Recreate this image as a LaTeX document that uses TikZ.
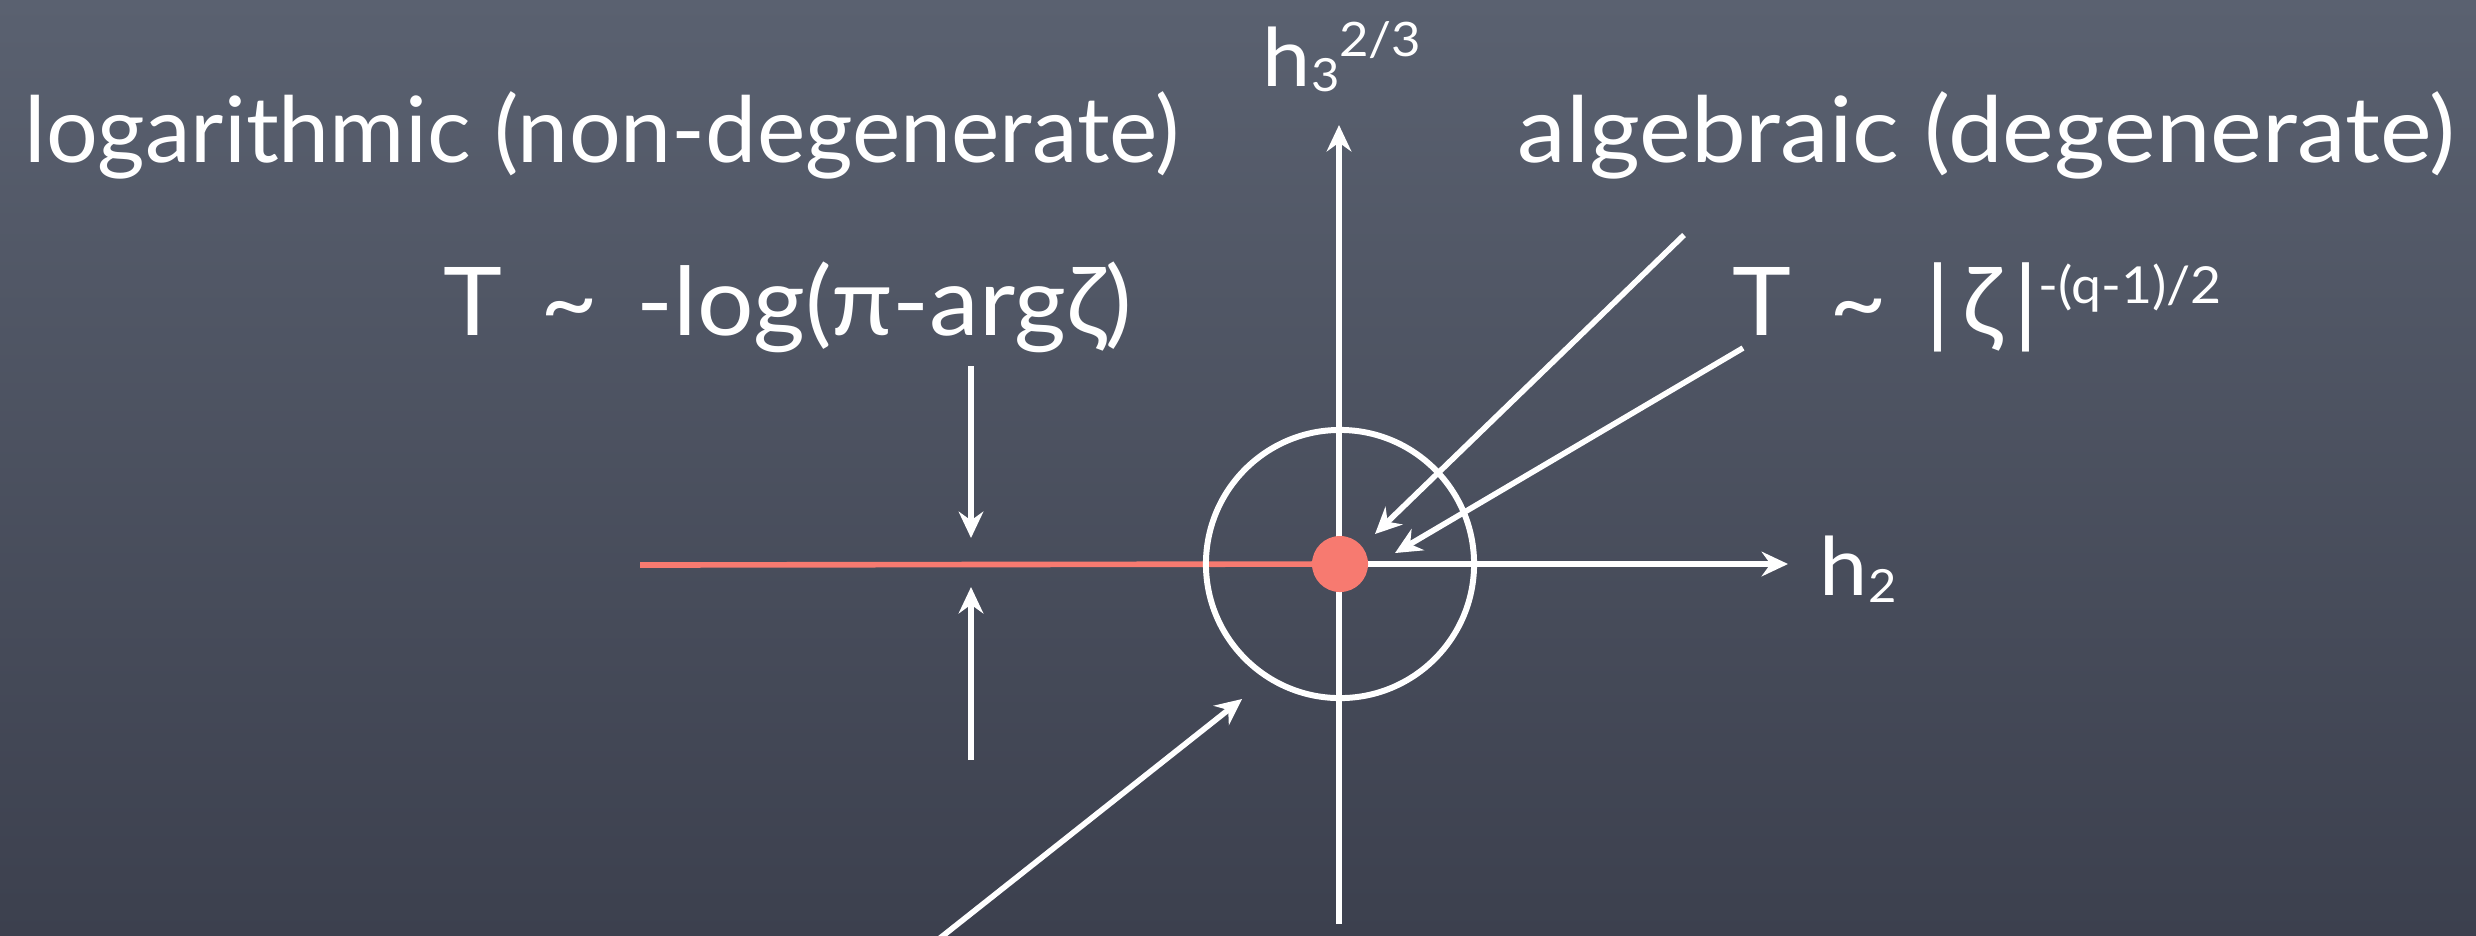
\documentclass[tikz,border=0pt]{standalone}
\usepackage{fontspec}
\setmainfont{Lato}
\newfontfamily\widea[FakeStretch=1.07]{Lato}
\newfontfamily\wideb[FakeStretch=1.05]{Lato}
\usetikzlibrary{arrows.meta}
\definecolor{bgtop}{RGB}{90,97,112}
\definecolor{bgbot}{RGB}{60,64,78}
\definecolor{chalkred}{RGB}{247,122,112}
\tikzset{
  chalk/.style={draw=white, line width=1.6pt},
  chalkarrow/.style={chalk, -{Stealth[length=7.5pt,width=7pt,inset=2.5pt]}},
  redline/.style={draw=chalkred, line width=1.6pt},
  lbl/.style={text=white, inner sep=0pt, anchor=base west, font=\fontsize{26}{30}\selectfont},
  frm/.style={text=white, inner sep=0pt, anchor=base west, font=\wideb\fontsize{27}{30}\selectfont},
  axlbl/.style={text=white, inner sep=0pt, anchor=base west, font=\widea\fontsize{23}{26}\selectfont},
  reddot/.style={circle, fill=chalkred, minimum size=0.56cm, inner sep=0pt},
  ring/.style={circle, draw=white, line width=1.7pt, minimum size=2.68cm, inner sep=0pt}
}
\begin{document}
\begin{tikzpicture}[x=0.01cm,y=-0.01cm]
\fill[top color=bgtop,bottom color=bgbot] (0,0) rectangle (2476,935);
\useasboundingbox (0,0) rectangle (2476,935);
\clip (0,0) rectangle (2476,935);
% coordinates
\coordinate (o) at (1340,564);
\coordinate (vb) at (1339,924);
\coordinate (vt) at (1339,125);
\coordinate (hr) at (1788,564);
\coordinate (rl) at (640,565);
\coordinate (a1s) at (1684,235);
\coordinate (a1e) at (1375,534);
\coordinate (a2s) at (1743,348);
\coordinate (a2e) at (1395,553);
\coordinate (lls) at (930,946);
\coordinate (lle) at (1242,699);
\coordinate (d1s) at (971,366);
\coordinate (d1e) at (971,538);
\coordinate (u1s) at (971,760);
\coordinate (u1e) at (971,587);
% axes
\draw[redline] (rl) -- (o);
\draw[chalkarrow] (o) -- (hr);
\draw[chalkarrow] (vb) -- (vt);
\node[ring] (circ) at (o) {};
\node[reddot] (dot) at (o) {};
% arrows
\draw[chalkarrow] (a1s) -- (a1e);
\draw[chalkarrow] (a2s) -- (a2e);
\draw[chalkarrow] (lls) -- (lle);
\draw[chalkarrow] (d1s) -- (d1e);
\draw[chalkarrow] (u1s) -- (u1e);
% labels
\node[lbl] (log) at (24,162) {logarithmic (non-degenerate)};
\node[lbl, font=\widea\fontsize{26}{30}\selectfont] (alg) at (1517,162) {algebraic (degenerate)};
\node[frm] (tlog) at (443,335) {T\hspace{0.38cm}\char"007E\hspace{0.38cm}-log(π-argζ)};
\node[frm] (talg) at (1732,335) {T\hspace{0.38cm}\char"007E\hspace{0.38cm}|\hspace{0.12cm}ζ\hspace{0.12cm}|\raisebox{9pt}{\fontsize{14.5}{17}\selectfont -(q-1)/2}};
\node[axlbl] (h3) at (1262,86) {h\raisebox{-1.7pt}{\fontsize{13}{15}\selectfont 3}\raisebox{8.5pt}{\fontsize{13.5}{15}\selectfont 2/3}};
\node[axlbl] (h2) at (1819,595) {h\raisebox{-2pt}{\fontsize{13}{15}\selectfont 2}};
\end{tikzpicture}
\end{document}
